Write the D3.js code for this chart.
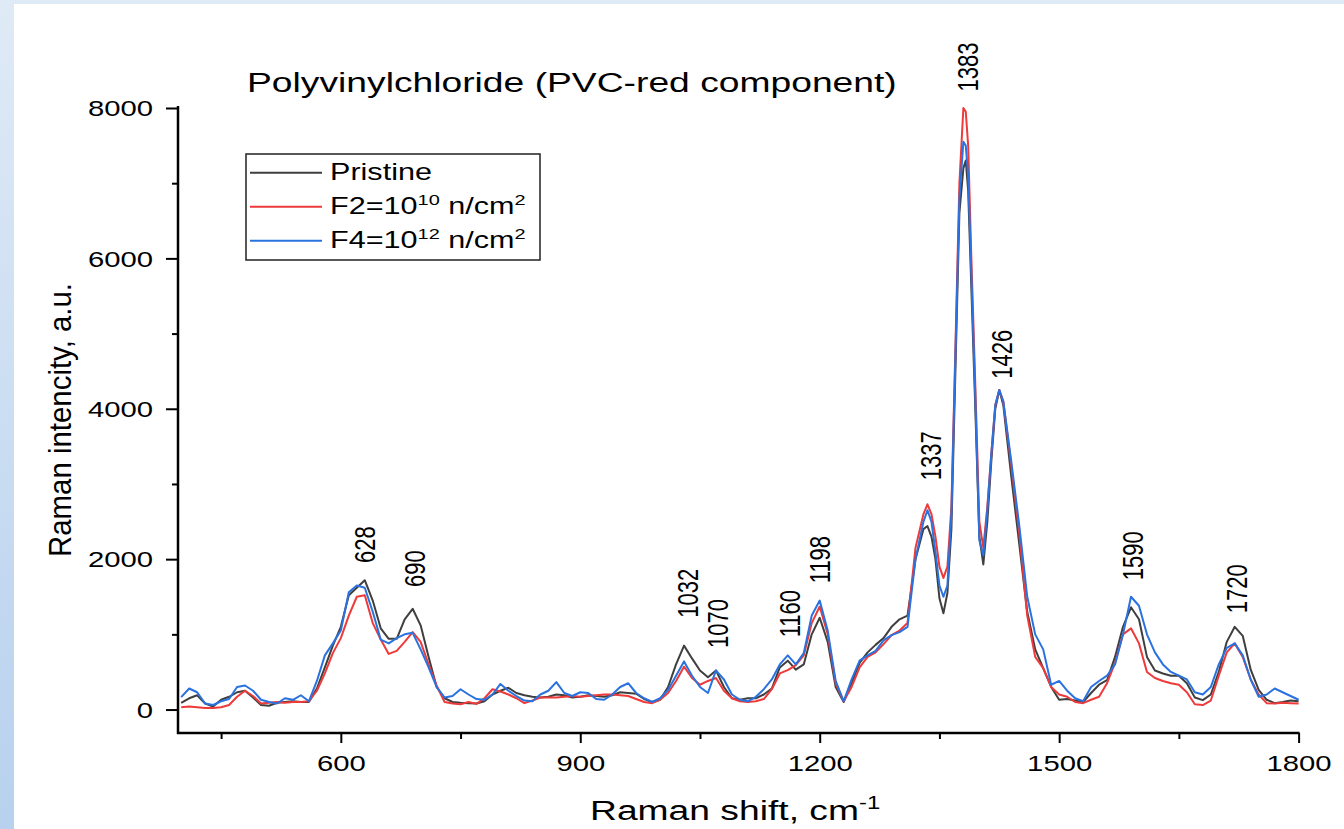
<!DOCTYPE html>
<html>
<head>
<meta charset="utf-8">
<script src="https://cdn.jsdelivr.net/npm/d3@7"></script>
<style>
  body { margin: 0; padding: 0; background: #ffffff; }
  svg { display: block; }
  text { font-family: "Liberation Sans", Arial, sans-serif; fill: #000; }
</style>
</head>
<body>
<svg id="chart" width="1344" height="829"></svg>
<script>
// ---------------- DATA ----------------
const wavenumber = [
  400,410,420,430,440,450,460,470,480,490,
  500,510,520,530,540,550,560,570,580,590,
  600,610,620,630,640,650,660,670,680,690,
  700,710,720,730,740,750,760,770,780,790,
  800,810,820,830,840,850,860,870,880,890,
  900,910,920,930,940,950,960,970,980,990,
  1000,1010,1020,1030,1040,1050,1060,1070,1080,1090,
  1100,1110,1120,1130,1140,1150,1160,1170,1180,1190,
  1200,1210,1220,1230,1240,1250,1260,1270,1280,1290,
  1300,1310,1320,
  1330,1335,1340,1345,1350,1355,1360,1365,1370,1375,1380,1383,1386,1390,1395,1400,1405,1410,1415,1420,1425,1430,
  1440,1450,1460,1470,1480,1490,1500,1510,1520,1530,
  1540,1550,1560,1570,1580,1590,1600,1610,1620,1630,
  1640,1650,1660,1670,1680,1690,1700,1710,1720,1730,
  1740,1750,1760,1770,1780,1790,1800
];

const pristine = [
  90,150,190,80,40,130,170,230,250,160,
  60,50,90,100,110,100,100,280,560,850,
  1100,1520,1620,1720,1450,1080,940,940,1200,1340,
  1120,700,300,150,100,90,85,80,110,200,
  250,290,220,190,170,160,170,200,190,160,
  170,190,180,170,190,230,220,210,140,100,
  130,300,600,850,680,520,430,520,300,150,
  130,150,150,200,280,560,650,530,600,1000,
  1220,900,300,100,350,620,760,860,950,1100,
  1200,1250,2000,
  2400,2440,2300,2000,1480,1280,1550,2400,4500,6600,7200,7300,6900,5600,3980,2300,1930,2500,3300,4000,4250,4050,
  3100,2200,1300,800,550,300,130,140,120,100,
  220,330,390,700,1100,1360,1200,700,520,480,
  450,450,350,160,125,200,500,900,1100,980,
  530,260,130,85,100,120,110
];

const f2 = [
  30,40,30,20,20,30,60,170,250,180,
  80,90,100,90,100,100,110,250,480,750,
  950,1250,1500,1520,1150,930,740,780,900,1030,
  900,600,320,100,80,70,100,75,150,270,
  240,200,150,85,120,160,160,160,170,180,
  170,180,190,200,200,190,180,140,100,85,
  130,220,380,570,420,330,380,420,250,150,
  110,100,110,140,270,480,525,590,720,1150,
  1370,1000,350,110,300,560,700,760,870,990,
  1050,1150,2150,
  2600,2730,2600,2300,1900,1750,1900,2700,4800,7000,8000,7950,7500,6000,4300,2500,2150,2700,3400,4050,4250,4100,
  3250,2350,1250,700,550,300,200,170,100,85,
  130,170,350,620,1000,1080,880,500,420,380,
  350,330,230,70,60,120,450,760,880,700,
  400,200,85,80,90,85,80
];

const f4 = [
  165,280,230,80,60,110,140,300,320,250,
  130,100,80,150,130,190,110,380,720,880,
  1050,1560,1650,1620,1300,930,880,950,1000,1020,
  800,560,300,160,180,270,200,140,130,200,
  340,250,180,120,110,200,250,365,220,180,
  230,220,140,130,200,300,350,220,150,100,
  150,260,450,640,450,300,220,520,400,200,
  130,110,170,270,400,600,720,600,750,1250,
  1450,1050,380,110,400,650,720,780,920,990,
  1030,1100,2000,
  2500,2650,2500,2100,1650,1500,1650,2600,4700,6800,7550,7500,7100,5800,4150,2250,2050,2650,3400,4050,4250,4100,
  3300,2450,1500,1000,800,330,380,250,150,110,
  300,380,450,600,1000,1500,1380,1000,760,600,
  500,450,400,230,200,300,600,820,880,720,
  400,170,200,280,230,180,130
];

const seriesNames = ["Pristine", "F2", "F4"];
const xTicks = [600, 900, 1200, 1500, 1800];
const xMinorTicks = [450, 750, 1050, 1350, 1650];
const yTicks = [0, 2000, 4000, 6000, 8000];
const yMinorTicks = [1000, 3000, 5000, 7000];
const peakLabels = [628, 690, 1032, 1070, 1160, 1198, 1337, 1383, 1426, 1590, 1720];
const peakLabelHeights = [1950, 1630, 1220, 820, 960, 1680, 3050, 8220, 4400, 1720, 1280];

// ---------------- LAYOUT ----------------
const svg = d3.select("#chart");
const W = 1344, H = 829;
const SX = 1.33; // horizontal text stretch of the original picture
const colors = { Pristine: "#3f3f3f", F2: "#ee3a3a", F4: "#2a72df" };

// background
const defs = svg.append("defs");
const grad = defs.append("linearGradient").attr("id", "bg").attr("x1", 0).attr("y1", 0).attr("x2", 0).attr("y2", 1);
grad.append("stop").attr("offset", "0%").attr("stop-color", "#dfeaf6");
grad.append("stop").attr("offset", "100%").attr("stop-color", "#b7d1ee");
svg.append("rect").attr("x", 0).attr("y", 0).attr("width", W).attr("height", H).attr("fill", "url(#bg)");
svg.append("rect").attr("x", 0).attr("y", 0).attr("width", W).attr("height", 4).attr("fill", "#deebf6");
svg.append("rect").attr("x", 14).attr("y", 4).attr("width", W - 14).attr("height", H - 4).attr("fill", "#ffffff");

const plot = { left: 178, right: 1298.6, top: 108, bottom: 733 };
const x = d3.scaleLinear().domain([396, 1800]).range([plot.left, plot.right]);
const y = d3.scaleLinear().domain([-312, 8000]).range([plot.bottom, plot.top]);

// lines
const rows = wavenumber.map((w, i) => ({ w, Pristine: pristine[i], F2: f2[i], F4: f4[i] }));
seriesNames.forEach(name => {
  const line = d3.line().x(d => x(d.w)).y(d => y(d[name]));
  svg.append("path")
    .datum(rows)
    .attr("fill", "none")
    .attr("stroke", colors[name])
    .attr("stroke-width", 2)
    .attr("stroke-linejoin", "round")
    .attr("d", line);
});

// axes
const xAxis = svg.append("g").attr("transform", `translate(0,${plot.bottom})`)
  .call(d3.axisBottom(x).tickValues(xTicks).tickSize(10).tickSizeOuter(0).tickFormat(d3.format("d")));
const xMinor = svg.append("g").attr("transform", `translate(0,${plot.bottom})`)
  .call(d3.axisBottom(x).tickValues(xMinorTicks).tickSize(6).tickSizeOuter(0).tickFormat(""));
const yAxis = svg.append("g").attr("transform", `translate(${plot.left},0)`)
  .call(d3.axisLeft(y).tickValues(yTicks).tickSize(12).tickSizeOuter(0).tickFormat(d3.format("d")));
const yMinor = svg.append("g").attr("transform", `translate(${plot.left},0)`)
  .call(d3.axisLeft(y).tickValues(yMinorTicks).tickSize(6).tickSizeOuter(0).tickFormat(""));

[xAxis, xMinor, yAxis, yMinor].forEach(g => {
  g.select(".domain").attr("stroke", "#000").attr("stroke-width", 2.5);
  g.selectAll(".tick line").attr("stroke", "#000").attr("stroke-width", 2);
});
xMinor.select(".domain").remove();
yMinor.select(".domain").remove();
// extend the axis lines to full plot frame
xAxis.select(".domain").attr("d", `M${plot.left - 1},0H${plot.right + 1}`);
yAxis.select(".domain").attr("d", `M0,${plot.top - 2}V${plot.bottom + 1}`);

xAxis.selectAll(".tick text")
  .attr("y", 38).attr("dy", 0)
  .attr("font-size", 22)
  .attr("font-family", "Liberation Sans, Arial, sans-serif")
  .attr("transform", `scale(${SX},1)`);
yAxis.selectAll(".tick text")
  .attr("x", -25 / SX).attr("dy", "0.35em")
  .attr("font-size", 22)
  .attr("font-family", "Liberation Sans, Arial, sans-serif")
  .attr("transform", `scale(${SX},1)`);

// peak labels
peakLabels.forEach((p, i) => {
  svg.append("g")
    .attr("transform", `translate(${x(p) + 12},${y(peakLabelHeights[i])}) scale(${SX},1) rotate(-90)`)
    .append("text")
    .attr("font-size", 22)
    .attr("text-anchor", "start")
    .text(p);
});

// title
svg.append("g").attr("transform", `translate(247,92) scale(${SX},1)`)
  .append("text").attr("font-size", 28).text("Polyvinylchloride (PVC-red component)");

// x axis title
const xt = svg.append("g").attr("transform", `translate(590,820) scale(${SX},1)`).append("text").attr("font-size", 28);
xt.append("tspan").text("Raman shift, cm");
xt.append("tspan").attr("font-size", 18).attr("dy", -11).text("-1");

// y axis title
svg.append("g").attr("transform", `translate(71,420) scale(${SX},1) rotate(-90)`)
  .append("text").attr("font-size", 24).attr("text-anchor", "middle")
  .attr("textLength", 274).attr("lengthAdjust", "spacingAndGlyphs")
  .text("Raman intencity, a.u.");

// legend
const legend = svg.append("g");
legend.append("rect").attr("x", 246).attr("y", 154).attr("width", 294).attr("height", 106)
  .attr("fill", "#fff").attr("stroke", "#222").attr("stroke-width", 1.5);
const legendRows = [
  { key: "Pristine", parts: [["Pristine", false]] },
  { key: "F2", parts: [["F2=10", false], ["10", true], [" n/cm", false], ["2", true]] },
  { key: "F4", parts: [["F4=10", false], ["12", true], [" n/cm", false], ["2", true]] }
];
const legendY = d3.scaleLinear().domain([0, 2]).range([172.7, 240.7]);
legendRows.forEach((r, i) => {
  const cy = legendY(i);
  legend.append("line").attr("x1", 250).attr("x2", 322).attr("y1", cy).attr("y2", cy)
    .attr("stroke", colors[r.key]).attr("stroke-width", 2);
  const t = legend.append("g").attr("transform", `translate(330,${cy + 7.5}) scale(${SX},1)`)
    .append("text").attr("font-size", 23);
  let raised = false;
  r.parts.forEach(([s, sup]) => {
    const ts = t.append("tspan").text(s);
    if (sup) { ts.attr("font-size", 15).attr("dy", raised ? 0 : -9); raised = true; }
    else { ts.attr("dy", raised ? 9 : 0); raised = false; }
  });
});
</script>
</body>
</html>
